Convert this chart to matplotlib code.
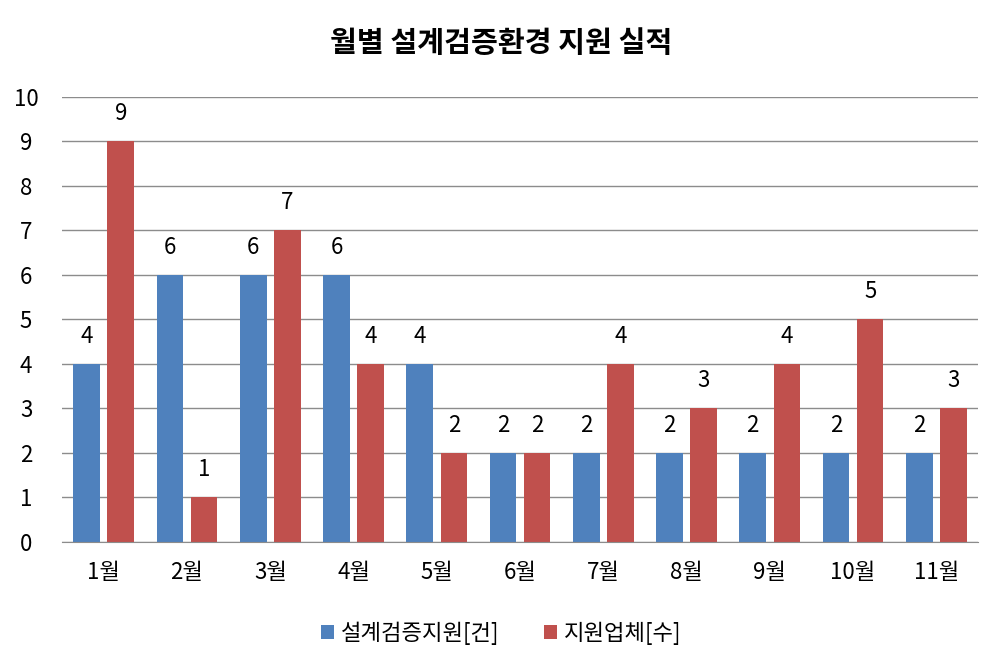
import numpy as np
import matplotlib
matplotlib.use('Agg')
from matplotlib import pyplot as plt
from matplotlib.patches import Patch

plt.rcParams['font.family'] = ['Noto Sans CJK KR', 'DejaVu Sans']

### Data
months = ['1월', '2월', '3월', '4월', '5월', '6월', '7월', '8월', '9월', '10월', '11월']
support_cases = [4, 6, 6, 6, 4, 2, 2, 2, 2, 2, 2]
support_companies = [9, 1, 7, 4, 2, 2, 4, 3, 4, 5, 3]
series_names = ['설계검증지원[건]', '지원업체[수]']

blue = '#4F81BD'
red = '#C0504D'

### Figure
fig = plt.figure(figsize=(10.02, 6.69), dpi=100)
ax = fig.add_axes([0.062, 0.19, 0.914, 0.665])

x = np.arange(len(months))
w = 0.32
off = 0.205
b1 = ax.bar(x - off, support_cases, width=w, color=blue, zorder=2)
b2 = ax.bar(x + off, support_companies, width=w, color=red, zorder=2)

for bars, vals in ((b1, support_cases), (b2, support_companies)):
    for rect, v in zip(bars, vals):
        ax.annotate(str(v), (rect.get_x() + rect.get_width() / 2, v),
                    xytext=(0, 20), textcoords='offset points',
                    ha='center', va='center', fontsize=16)

ax.set_xlim(-0.5, len(months) - 0.5)
ax.set_ylim(0, 10)
ax.set_yticks(range(0, 11))
ax.yaxis.grid(True, color='#8c8c8c', linewidth=1, zorder=0)
ax.set_axisbelow(True)
for s in ['top', 'right', 'left']:
    ax.spines[s].set_visible(False)
ax.spines['bottom'].set_color('#8c8c8c')
ax.tick_params(axis='both', length=0, labelsize=16)
ax.tick_params(axis='y', pad=26)
ax.tick_params(axis='x', pad=14)
ax.set_xticks(x)
ax.set_xticklabels(months)
for lbl in ax.get_yticklabels():
    lbl.set_horizontalalignment('center')

fig.text(0.5, 0.935, '월별 설계검증환경 지원 실적', ha='center', va='center',
         fontsize=21, fontweight='bold')

handles = [Patch(facecolor=blue, label=series_names[0]),
           Patch(facecolor=red, label=series_names[1])]
fig.legend(handles=handles, loc='center', bbox_to_anchor=(0.5, 0.053), ncol=2,
           frameon=False, fontsize=16, handlelength=0.6, handleheight=0.6,
           handletextpad=0.3, columnspacing=2.0)

plt.savefig('out.png', dpi=100)
